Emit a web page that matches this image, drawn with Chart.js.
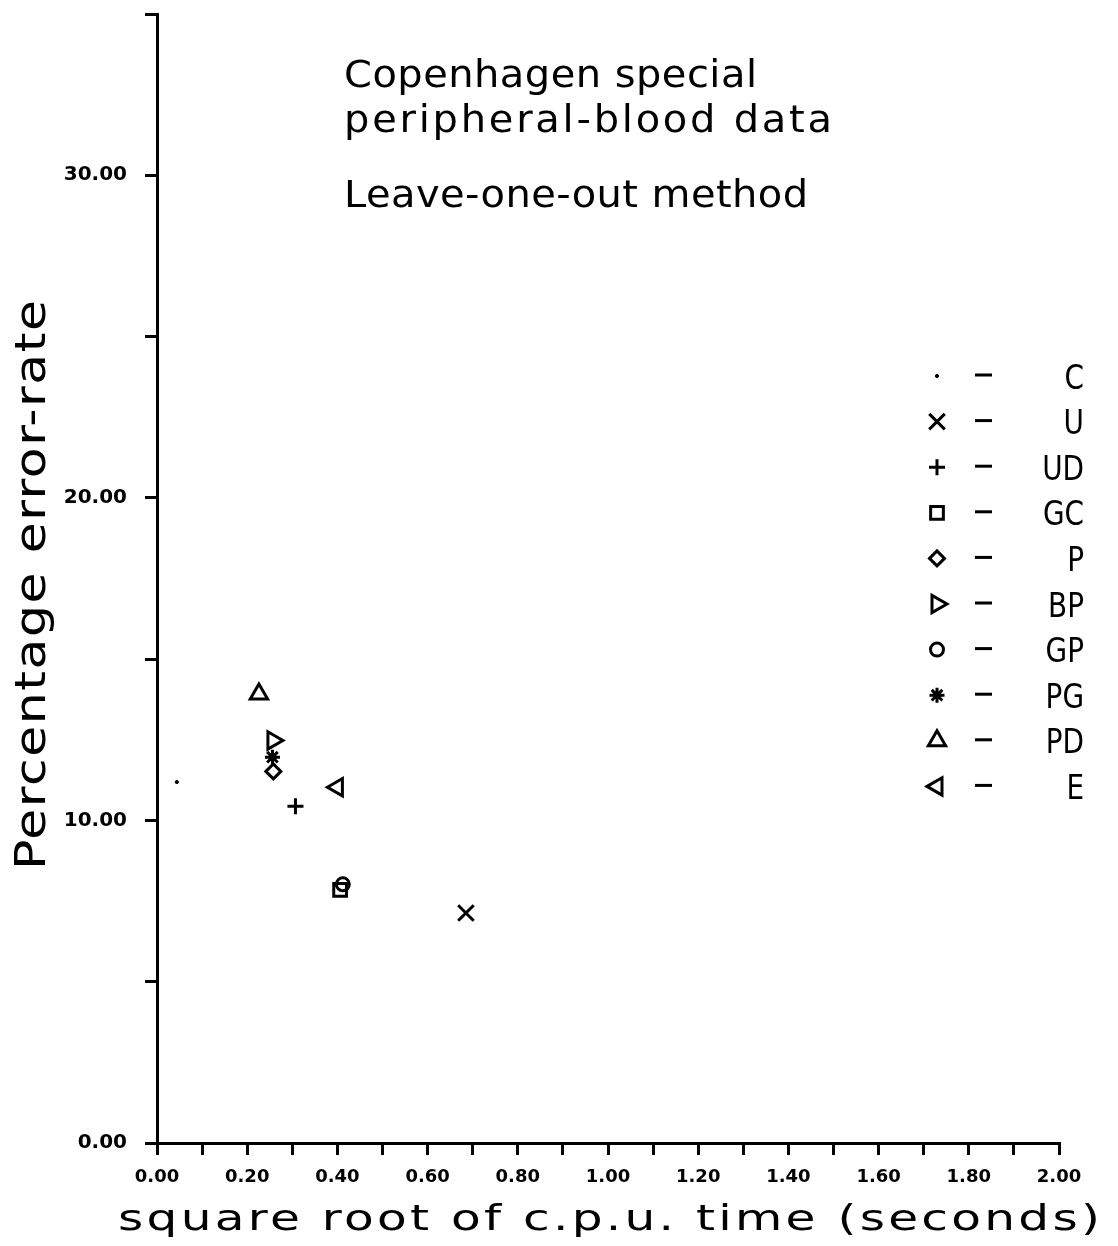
<!DOCTYPE html>
<html>
<head>
<meta charset="utf-8">
<script src="https://cdn.jsdelivr.net/npm/chart.js@4/dist/chart.umd.min.js"></script>
<style>
  html, body { margin: 0; padding: 0; background: #fff; }
  #wrap { width: 1118px; height: 1246px; position: relative; }
</style>
</head>
<body>
<div id="wrap"><canvas id="errChart"></canvas></div>
<script>
  // Copenhagen special peripheral-blood data, leave-one-out method
  var methods   = ['C', 'U', 'UD', 'GC', 'P', 'BP', 'GP', 'PG', 'PD', 'E'];
  var cpuSqrt   = [0.044, 0.685, 0.307, 0.406, 0.258, 0.257, 0.412, 0.256, 0.226, 0.400];
  var errorRate = [11.19, 7.13, 10.44, 7.85, 11.52, 12.48, 8.02, 11.96, 13.92, 11.03];

  var titleLines = ['Copenhagen special', 'peripheral-blood data', 'Leave-one-out method'];
  var xTitle = 'square root of c.p.u. time (seconds)';
  var yTitle = 'Percentage error-rate';

  // marker per method (style only)
  var markers = {
    C:  { style: 'circle',   radius: 1.6, rotation: 0,   fill: true },
    U:  { style: 'crossRot', radius: 11,  rotation: 0 },
    UD: { style: 'cross',    radius: 8,   rotation: 0 },
    GC: { style: 'rect',     radius: 9,   rotation: 0 },
    P:  { style: 'rectRot',  radius: 7.5, rotation: 0 },
    BP: { style: 'triangle', radius: 10,  rotation: 90 },
    GP: { style: 'circle',   radius: 6.5, rotation: 0 },
    PG: { style: 'star',     radius: 7.5, rotation: 0 },
    PD: { style: 'triangle', radius: 10,  rotation: 0 },
    E:  { style: 'triangle', radius: 10,  rotation: -90 }
  };

  var datasets = methods.map(function (m, i) {
    var mk = markers[m];
    return {
      label: m,
      data: [{ x: cpuSqrt[i], y: errorRate[i] }],
      pointStyle: mk.style,
      pointRadius: mk.radius,
      pointRotation: mk.rotation,
      borderColor: '#000',
      backgroundColor: mk.fill ? '#000' : 'rgba(0,0,0,0)',
      pointBorderWidth: mk.fill ? 1 : 3,
      pointHoverRadius: mk.radius
    };
  });

  // text spread out to a given width, like the old plotter lettering
  function spacedText(ctx, text, x, y, width, stretch) {
    ctx.letterSpacing = '0px';
    var w = ctx.measureText(text).width;
    var gap = (width / stretch - w) / (text.length - 1);
    ctx.save();
    ctx.translate(x, y);
    ctx.scale(stretch, 1);
    ctx.letterSpacing = gap + 'px';
    ctx.textAlign = 'left';
    ctx.fillText(text, 0, 0);
    ctx.restore();
  }

  var textPlugin = {
    id: 'textPlugin',
    afterDraw: function (chart) {
      var ctx = chart.ctx;
      ctx.save();
      ctx.fillStyle = '#000';
      ctx.textBaseline = 'alphabetic';

      ctx.font = '37px "DejaVu Sans"';
      spacedText(ctx, titleLines[0], 344, 87, 413, 1.08);
      spacedText(ctx, titleLines[1], 344, 132, 488, 1.08);
      spacedText(ctx, titleLines[2], 344, 207, 464, 1.08);

      // axis titles
      ctx.font = '36px "DejaVu Sans"';
      spacedText(ctx, xTitle, 118, 1230, 982, 1.35);
      ctx.save();
      ctx.translate(45, 870);
      ctx.rotate(-Math.PI / 2);
      ctx.font = '42px "DejaVu Sans"';
      spacedText(ctx, yTitle, 0, 0, 570, 1.2);
      ctx.restore();

      // legend on the right
      var y0 = 376, dy = 45.6;
      chart.data.datasets.forEach(function (ds, i) {
        var y = y0 + i * dy;
        ctx.strokeStyle = '#000';
        ctx.fillStyle = ds.backgroundColor;
        ctx.lineWidth = ds.pointBorderWidth;
        Chart.helpers.drawPoint(ctx, {
          pointStyle: ds.pointStyle,
          rotation: ds.pointRotation,
          radius: ds.pointRadius,
          borderWidth: ds.pointBorderWidth
        }, 937, y);

        ctx.lineWidth = 3;
        ctx.beginPath();
        ctx.moveTo(975, y - 1);
        ctx.lineTo(992, y - 1);
        ctx.stroke();

        ctx.save();
        ctx.fillStyle = '#000';
        ctx.font = '34px "DejaVu Sans"';
        ctx.letterSpacing = '0px';
        ctx.textAlign = 'right';
        ctx.translate(1084, y + 12.5);
        ctx.scale(0.82, 1);
        ctx.fillText(ds.label, 0, 0);
        ctx.restore();
      });
      ctx.restore();
    }
  };

  new Chart(document.getElementById('errChart'), {
    type: 'scatter',
    data: { datasets: datasets },
    plugins: [textPlugin],
    options: {
      responsive: true,
      maintainAspectRatio: false,
      animation: false,
      layout: { padding: { top: 11, right: 59, left: 0, bottom: 0 } },
      plugins: {
        legend: { display: false },
        tooltip: { enabled: false }
      },
      scales: {
        x: {
          type: 'linear',
          min: 0,
          max: 2,
          afterFit: function (s) {
            s.height = 103;
            s.paddingLeft = 0;
            s.paddingRight = 0;
          },
          border: { display: true, color: '#000', width: 3 },
          grid: { drawOnChartArea: false, drawTicks: true, tickLength: 12, color: '#000', lineWidth: 3 },
          ticks: {
            stepSize: 0.1,
            autoSkip: false,
            maxRotation: 0,
            padding: 12,
            color: '#000',
            font: { family: '"DejaVu Sans"', size: 18, weight: 'bold' },
            callback: function (v) {
              return Math.round(v * 10) % 2 === 0 ? Number(v).toFixed(2) : '';
            }
          }
        },
        y: {
          type: 'linear',
          min: 0,
          max: 35,
          afterFit: function (s) {
            s.width = 157;
            s.paddingTop = 0;
            s.paddingBottom = 0;
          },
          border: { display: true, color: '#000', width: 3 },
          grid: { drawOnChartArea: false, drawTicks: true, tickLength: 12, color: '#000', lineWidth: 3 },
          ticks: {
            stepSize: 5,
            autoSkip: false,
            padding: 18,
            color: '#000',
            font: { family: '"DejaVu Sans"', size: 20, weight: 'bold' },
            callback: function (v) {
              return v % 10 === 0 ? Number(v).toFixed(2) : '';
            }
          }
        }
      }
    }
  });
</script>
</body>
</html>
